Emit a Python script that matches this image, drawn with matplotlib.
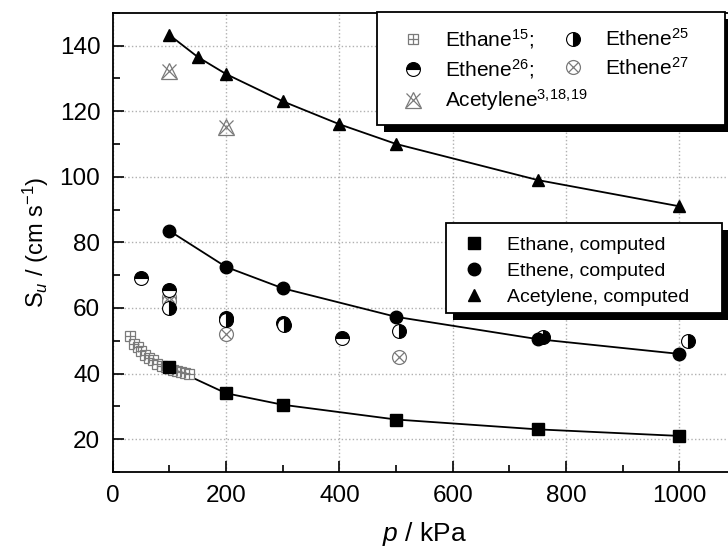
import numpy as np
import matplotlib
matplotlib.use("Agg")
import matplotlib.pyplot as plt
from matplotlib import patheffects
from matplotlib.patches import Rectangle
from matplotlib.ticker import MultipleLocator

plt.rcParams['font.family'] = ['Liberation Sans', 'DejaVu Sans']
plt.rcParams['mathtext.fontset'] = 'custom'
plt.rcParams['mathtext.rm'] = 'Liberation Sans'
plt.rcParams['mathtext.it'] = 'Liberation Sans:italic'

# computed values
p_ethane_c = [100, 200, 300, 500, 750, 1000]
su_ethane_c = [42, 34, 30.5, 26, 23, 21]
p_ethene_c = [100, 200, 300, 500, 750, 1000]
su_ethene_c = [83.5, 72.5, 66, 57.3, 50.5, 46]
p_acet_c = [100, 150, 200, 300, 400, 500, 750, 1000]
su_acet_c = [143.2, 136.5, 131.3, 123, 116, 110, 99, 91]

# experimental values
p_ethane15 = [30, 37, 44, 50, 57, 64, 71, 78, 86, 93, 100, 107, 114, 121, 128, 135]
su_ethane15 = [51.5, 49, 48, 47, 45.8, 44.8, 44, 43, 42.4, 42.1, 41.6, 41.1, 40.7, 40.5, 40.3, 40]
p_ethene25 = [100, 200, 302, 505, 760, 1015]
su_ethene25 = [60, 56.2, 54.8, 53, 51.2, 49.8]
p_ethene26 = [50, 100, 200, 300, 405]
su_ethene26 = [69.2, 65.4, 57, 55.3, 51]
p_ethene27 = [100, 100, 200, 505]
su_ethene27 = [63.5, 62, 52.1, 45]
p_acet_exp = [100, 200]
su_acet_exp = [132.3, 115.3]

grey = '#7a7a7a'
W, H = 728, 554

fig = plt.figure(figsize=(7.28, 5.54), dpi=100)
ax = fig.add_axes([0.155, 0.148, 0.856, 0.829])

ax.plot(p_ethane_c, su_ethane_c, '-', color='k', lw=1.3, zorder=2)
ax.plot(p_ethene_c, su_ethene_c, '-', color='k', lw=1.3, zorder=2)
ax.plot(p_acet_c, su_acet_c, '-', color='k', lw=1.3, zorder=2)

h_e15a, = ax.plot(p_ethane15, su_ethane15, ls='none', marker='s', ms=7, mfc='white', mec=grey, mew=0.9, zorder=3)
h_e15b, = ax.plot(p_ethane15, su_ethane15, ls='none', marker='+', ms=7, color=grey, mew=0.9, zorder=3)
h_e27a, = ax.plot(p_ethene27, su_ethene27, ls='none', marker='o', ms=10, mfc='white', mec=grey, mew=0.9, zorder=3)
h_e27b, = ax.plot(p_ethene27, su_ethene27, ls='none', marker='x', ms=7, color=grey, mew=0.9, zorder=3)
h_ac_a, = ax.plot(p_acet_exp, su_acet_exp, ls='none', marker='^', ms=11, mfc='none', mec=grey, mew=0.9, zorder=3)
h_ac_b, = ax.plot(p_acet_exp, su_acet_exp, ls='none', marker='x', ms=10, color=grey, mew=0.9, zorder=3)
h_e26, = ax.plot(p_ethene26, su_ethene26, ls='none', marker='o', ms=10, fillstyle='top',
                 mfc='k', mfcalt='white', mec='k', mew=0.8, zorder=4)
h_e25, = ax.plot(p_ethene25, su_ethene25, ls='none', marker='o', ms=10, fillstyle='right',
                 mfc='k', mfcalt='white', mec='k', mew=0.8, zorder=4)

h_sq, = ax.plot(p_ethane_c, su_ethane_c, ls='none', marker='s', ms=8, color='k', zorder=5)
h_ci, = ax.plot(p_ethene_c, su_ethene_c, ls='none', marker='o', ms=9, color='k', zorder=5)
h_tr, = ax.plot(p_acet_c, su_acet_c, ls='none', marker='^', ms=9, color='k', zorder=5)

ax.set_xlim(0, 1100)
ax.set_ylim(10, 150)
ax.xaxis.set_major_locator(MultipleLocator(200))
ax.xaxis.set_minor_locator(MultipleLocator(100))
ax.yaxis.set_major_locator(MultipleLocator(20))
ax.yaxis.set_minor_locator(MultipleLocator(10))
ax.set_yticks([20, 40, 60, 80, 100, 120, 140])
ax.tick_params(which='major', direction='in', length=8, width=1.2, labelsize=17.5, pad=9)
ax.tick_params(which='minor', direction='in', length=5, width=1.2)
ax.grid(True, which='major', ls=':', color='#b0b0b0', lw=1)
for s in ax.spines.values():
    s.set_linewidth(1.3)

ax.set_xlabel(r'$\it{p}$ / kPa', fontsize=19, labelpad=10)
ax.set_ylabel(r'S$_{\it{u}}$ / (cm s$^{-1}$)', fontsize=17, labelpad=6)

shadow = [patheffects.SimplePatchShadow(offset=(5, -5), shadow_rgbFace='k', alpha=1.0),
          patheffects.Normal()]

# legend frames (pixel boxes from the reference)
for x0, y0, x1, y1 in [(377, 12, 725, 125), (446, 223, 722, 313)]:
    fig.add_artist(Rectangle((x0 / W, 1 - y1 / H), (x1 - x0) / W, (y1 - y0) / H,
                             transform=fig.transFigure, fc='white', ec='k', lw=1.3,
                             path_effects=shadow, zorder=4))

leg1 = fig.legend([(h_e15a, h_e15b), (h_e26,), (h_ac_a, h_ac_b), (h_e25,), (h_e27a, h_e27b)],
                  [r'Ethane$^{15}$;', r'Ethene$^{26}$;', r'Acetylene$^{3,\!18,\!19}$',
                   r'Ethene$^{25}$', r'Ethene$^{27}$'],
                  ncol=2, loc='upper left', bbox_to_anchor=(396 / W, 1 - 27 / H),
                  fontsize=15, frameon=False, borderpad=0, labelspacing=0.3, handlelength=1.6,
                  handletextpad=0.75, columnspacing=-1.5, borderaxespad=0)
leg1.set_zorder(5)

leg2 = fig.legend([h_sq, h_ci, h_tr],
                  ['Ethane, computed', 'Ethene, computed', 'Acetylene, computed'],
                  loc='upper left', bbox_to_anchor=(455 / W, 1 - 236 / H),
                  fontsize=14, frameon=False, borderpad=0, labelspacing=0.43,
                  handletextpad=0.65, borderaxespad=0)
leg2.set_zorder(5)

fig.savefig('out.png', dpi=100)
